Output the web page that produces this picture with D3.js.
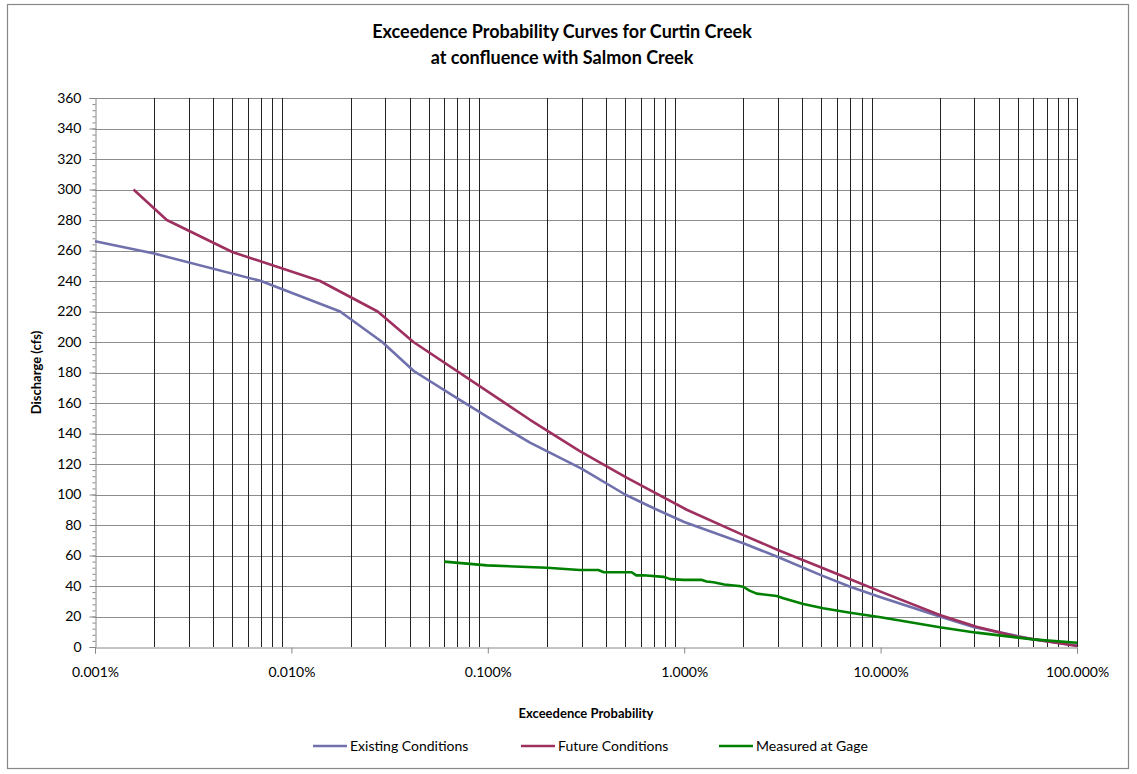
<!DOCTYPE html>
<html>
<head>
<meta charset="utf-8">
<script src="https://cdn.jsdelivr.net/npm/d3@7"></script>
<style>
  body { margin: 0; background: #fff; }
  svg text { font-family: Lato, "Open Sans", sans-serif; fill: #000; }
</style>
</head>
<body>
<div id="canvas"></div>
<script>
"use strict";

/* Drawing settings */
let svgWidth = 1137;
let svgHeight = 774;
let plotLeft = 95, plotRight = 1077, plotTop = 98, plotBottom = 647;

/* Data: exceedance probability (%) and discharge (cfs) */
let existingProb = [0.001, 0.002, 0.007, 0.0177, 0.029, 0.042, 0.07, 0.125, 0.164, 0.3, 0.5, 0.7, 1, 2, 3, 5, 7, 10, 20, 30, 60, 100];
let existingFlow = [266, 258, 240, 220, 200, 181, 163, 143, 134, 117, 100, 91, 82, 68, 59, 47, 39.5, 32.6, 20, 13, 5, 1];

let futureProb = [0.00157, 0.00232, 0.005, 0.014, 0.0275, 0.0418, 0.164, 0.294, 0.509, 1.03, 2, 3, 5.1, 7, 10, 20, 30.8, 49.3, 100];
let futureFlow = [300, 280, 259, 240, 220, 200, 149, 128.5, 111, 90, 73.4, 63.6, 51.6, 44.4, 36.3, 21, 13.3, 6.8, 0.7];

let gageProb = [0.06, 0.099, 0.2, 0.294, 0.365, 0.39, 0.419, 0.54, 0.57, 0.62, 0.784, 0.85, 0.99, 1.23, 1.3, 1.41, 1.6, 1.9, 2.0, 2.15, 2.34, 2.96, 3.2, 4.04, 5.1, 7, 10, 20, 30.8, 59.7, 100];
let gageFlow = [56, 53.5, 52, 50.5, 50.5, 49, 49, 49, 47, 47, 46, 44.5, 44, 44, 43, 42.5, 41, 40, 39.5, 37, 35, 33.4, 32, 28.2, 25.4, 22.5, 19.5, 13, 9.4, 5, 2.8];

let seriesNames = ["Existing Conditions", "Future Conditions", "Measured at Gage"];
let seriesColors = ["#7070ad", "#9e3060", "#008000"];

let yTicks = d3.range(0, 361, 20);
let xDecades = [0.001, 0.01, 0.1, 1, 10, 100];

/* Canvas */
let svg = d3.select("#canvas")
  .append("svg")
  .attr("width", svgWidth)
  .attr("height", svgHeight);

svg.append("rect") // chart border
  .attr("x", 7.5).attr("y", 4.5)
  .attr("width", 1121).attr("height", 764)
  .attr("fill", "#fff")
  .attr("stroke", "#888")
  .attr("stroke-width", 1.2);

/* Scales */
let xScale = d3.scaleLog()
  .domain([0.001, 100])
  .range([plotLeft, plotRight]);

let yScale = d3.scaleLinear()
  .domain([0, 360])
  .range([plotBottom, plotTop]);

/* Gridlines */
let vGrid = [];
xDecades.slice(0, -1).forEach(d => {
  for (let k = 2; k <= 9; k++) vGrid.push(d * k);
});
vGrid.push(100);

svg.append("g")
  .selectAll("line")
  .data(yTicks.filter(d => d > 0))
  .join("line")
  .attr("x1", plotLeft).attr("x2", plotRight)
  .attr("y1", d => Math.round(yScale(d)) + 0.5)
  .attr("y2", d => Math.round(yScale(d)) + 0.5)
  .attr("stroke", "#8c8c8c");

svg.append("g")
  .selectAll("line")
  .data(vGrid)
  .join("line")
  .attr("x1", d => Math.round(xScale(d)) + 0.5)
  .attr("x2", d => Math.round(xScale(d)) + 0.5)
  .attr("y1", plotTop).attr("y2", plotBottom)
  .attr("stroke", "#222");

/* Axes */
let yMinor = svg.append("g")
  .attr("transform", `translate(${plotLeft + 0.5},0)`)
  .call(d3.axisLeft(yScale).tickValues(d3.range(0, 361, 4)).tickSize(3).tickFormat(""));
yMinor.select(".domain").remove();
yMinor.selectAll("line").attr("stroke", "#888");

let yAxis = svg.append("g")
  .attr("transform", `translate(${plotLeft + 0.5},0)`)
  .call(d3.axisLeft(yScale).tickValues(yTicks).tickSize(6).tickPadding(8));
yAxis.select(".domain").attr("stroke", "#888");
yAxis.selectAll("line").attr("stroke", "#888");
yAxis.selectAll("text").style("font-size", "14px");

let xAxis = svg.append("g")
  .attr("transform", `translate(0,${plotBottom + 0.5})`)
  .call(d3.axisBottom(xScale).tickValues(xDecades).tickSize(6).tickPadding(14)
    .tickFormat(d => d3.format(".3f")(d) + "%"));
xAxis.select(".domain").attr("stroke", "#888");
xAxis.selectAll("line").attr("stroke", "#888");
xAxis.selectAll("text").style("font-size", "14px");

/* Lines */
let line = d3.line()
  .x(d => xScale(d[0]))
  .y(d => yScale(d[1]));

let seriesData = [
  d3.zip(existingProb, existingFlow),
  d3.zip(futureProb, futureFlow),
  d3.zip(gageProb, gageFlow)
];

svg.append("g")
  .selectAll("path")
  .data(seriesData)
  .join("path")
  .attr("d", line)
  .attr("fill", "none")
  .attr("stroke", (d, i) => seriesColors[i])
  .attr("stroke-width", 2.6)
  .attr("stroke-linejoin", "round");

/* Titles */
svg.append("text")
  .attr("x", 562).attr("y", 38)
  .attr("text-anchor", "middle")
  .style("font-size", "18px").style("font-weight", "bold")
  .text("Exceedence Probability Curves for Curtin Creek");

svg.append("text")
  .attr("x", 562).attr("y", 64)
  .attr("text-anchor", "middle")
  .style("font-size", "18px").style("font-weight", "bold")
  .text("at confluence with Salmon Creek");

svg.append("text")
  .attr("x", 586).attr("y", 718)
  .attr("text-anchor", "middle")
  .style("font-size", "13px").style("font-weight", "bold")
  .text("Exceedence Probability");

svg.append("text")
  .attr("transform", `translate(41,${(plotTop + plotBottom) / 2}) rotate(-90)`)
  .attr("text-anchor", "middle")
  .style("font-size", "13px").style("font-weight", "bold")
  .text("Discharge (cfs)");

/* Legend */
let legendX = [313, 521, 719];
let legend = svg.append("g")
  .selectAll("g")
  .data(seriesNames)
  .join("g")
  .attr("transform", (d, i) => `translate(${legendX[i]},746)`);

legend.append("line")
  .attr("x1", 0).attr("x2", 34)
  .attr("stroke", (d, i) => seriesColors[i])
  .attr("stroke-width", 2.6);

legend.append("text")
  .attr("x", 37).attr("y", 5)
  .style("font-size", "14px")
  .text(d => d);
</script>
</body>
</html>
